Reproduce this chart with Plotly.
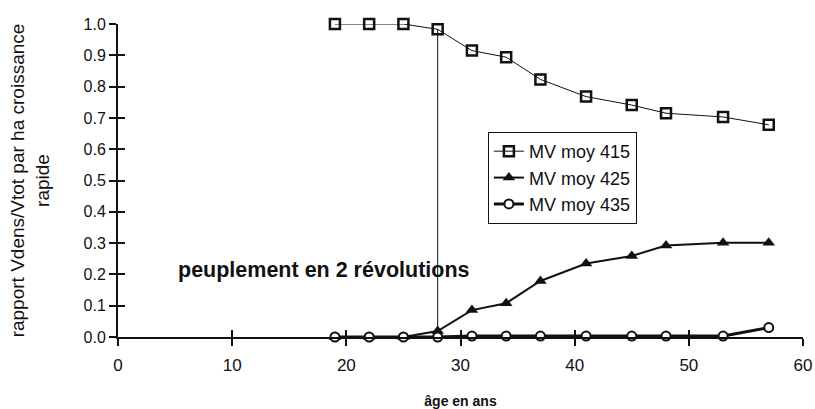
import plotly.graph_objects as go

# Âge du peuplement (ans)
ages = [19, 22, 25, 28, 31, 34, 37, 41, 45, 48, 53, 57]

# Rapport Vdens/Vtot par classe de MV moyenne
mv_415 = [1.0, 1.0, 1.0, 0.983, 0.915, 0.894, 0.823, 0.768, 0.741, 0.715, 0.703, 0.678]
mv_425 = [0.0, 0.0, 0.0, 0.019, 0.086, 0.108, 0.179, 0.235, 0.259, 0.292, 0.301, 0.301]
mv_435 = [0.0, 0.0, 0.0, 0.0, 0.003, 0.003, 0.003, 0.003, 0.003, 0.003, 0.003, 0.030]

# Âge de la seconde révolution
revolution_age = 28

x_ticks = [0, 10, 20, 30, 40, 50, 60]
y_ticks = [0.0, 0.1, 0.2, 0.3, 0.4, 0.5, 0.6, 0.7, 0.8, 0.9, 1.0]

FONT = "Liberation Sans"
BLACK = "#111111"

fig = go.Figure()

fig.add_trace(go.Scatter(
    x=ages, y=mv_415, name="MV moy 415", mode="lines+markers",
    line=dict(color=BLACK, width=1),
    marker=dict(symbol="square-open", size=10, color=BLACK, line=dict(width=2.5)),
    cliponaxis=False,
))
fig.add_trace(go.Scatter(
    x=ages, y=mv_425, name="MV moy 425", mode="lines+markers",
    line=dict(color=BLACK, width=2),
    marker=dict(symbol="triangle-up", size=11, color=BLACK),
    cliponaxis=False,
))
fig.add_trace(go.Scatter(
    x=ages, y=mv_435, name="MV moy 435", mode="lines+markers",
    line=dict(color=BLACK, width=3),
    marker=dict(symbol="circle", size=9, color="white", line=dict(color=BLACK, width=2)),
    cliponaxis=False,
))
# Trace invisible pour activer les axes superposés (graduations intérieures)
fig.add_trace(go.Scatter(
    x=[0], y=[0], xaxis="x2", yaxis="y2", mode="markers",
    marker=dict(opacity=0), showlegend=False, hoverinfo="skip",
))

# Ligne verticale marquant la seconde révolution
fig.add_shape(type="line", x0=revolution_age, x1=revolution_age,
              y0=0, y1=mv_415[ages.index(revolution_age)],
              line=dict(color=BLACK, width=1), layer="below")

fig.add_annotation(x=18, y=0.214, text="<b>peuplement en 2 révolutions</b>",
                   showarrow=False, font=dict(family=FONT, size=21.5, color=BLACK))

axis_common = dict(showgrid=False, zeroline=False, color=BLACK, automargin=False)

fig.update_layout(
    width=815, height=409,
    margin=dict(l=118, r=12, t=24, b=72),
    paper_bgcolor="white", plot_bgcolor="white",
    font=dict(family=FONT, color=BLACK),
    xaxis=dict(
        range=[0, 60], tickvals=x_ticks, ticks="outside", ticklen=7, tickwidth=1.5,
        showline=True, linewidth=2, linecolor=BLACK,
        tickfont=dict(size=17), ticklabelstandoff=5,
        title=dict(text="<b>âge en ans</b>", font=dict(size=14), standoff=26),
        **axis_common,
    ),
    yaxis=dict(
        range=[0, 1.0], tickvals=y_ticks, tickformat=".1f", ticks="outside",
        ticklen=7, tickwidth=1.5, showline=True, linewidth=2, linecolor=BLACK,
        tickfont=dict(size=16),
        title=dict(text="rapport Vdens/Vtot par ha croissance<br>rapide",
                   font=dict(size=19), standoff=29),
        **axis_common,
    ),
    xaxis2=dict(range=[0, 60], tickvals=x_ticks, ticks="inside", ticklen=7,
                tickwidth=1.5, showticklabels=False, overlaying="x", anchor="y2",
                side="bottom", showline=False, **axis_common),
    yaxis2=dict(range=[0, 1.0], tickvals=y_ticks, ticks="inside", ticklen=7,
                tickwidth=1.5, showticklabels=False, overlaying="y", anchor="x2",
                side="left", showline=False, **axis_common),
    legend=dict(x=0.54, y=0.655, xanchor="left", yanchor="top",
                bordercolor=BLACK, borderwidth=1, bgcolor="white",
                font=dict(size=18), itemwidth=30, tracegroupgap=0),
    showlegend=True,
)

fig.write_html("out.html")
